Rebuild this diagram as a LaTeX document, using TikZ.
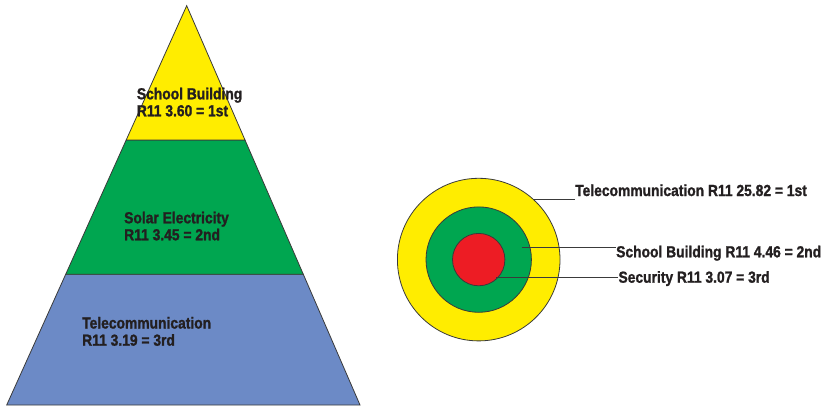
\documentclass[tikz,border=0pt]{standalone}
\usepackage{fontspec}
\newfontfamily\labfont{Liberation Sans Bold}[FakeStretch=0.865, FakeBold=1.3]
\definecolor{pyel}{HTML}{FFED00}
\definecolor{pgrn}{HTML}{00A650}
\definecolor{pblu}{HTML}{6C8AC6}
\definecolor{pred}{HTML}{ED1C24}
\definecolor{ptxt}{HTML}{231F20}
\definecolor{pline}{HTML}{3A3A3A}
\tikzset{
  lab/.style={anchor=base west, inner sep=0pt, text=ptxt, font=\fontsize{16}{18}\labfont},
  layer/.style={draw=pline, line width=0.8pt, line join=miter},
  ring/.style={circle, draw=pline, line width=0.8pt, inner sep=0pt, minimum size=#1},
  leader/.style={draw=pline, line width=0.9pt}
}
\begin{document}
\begin{tikzpicture}[x=1pt,y=-1pt]
\useasboundingbox (0,0) rectangle (826,406);
% pyramid
\path[layer, fill=pblu] (65.7,274.3) -- (303.3,274.3) -- (360,405) -- (6.7,405) -- cycle;
\path[layer, fill=pgrn] (126.2,140) -- (245,140) -- (303.3,274.3) -- (65.7,274.3) -- cycle;
\path[layer, fill=pyel] (186.7,5.7) -- (245,140) -- (126.2,140) -- cycle;
\node[lab] (sb1) at (136.7,99.3) {School Building};
\node[lab] (sb2) at (136.7,116.3) {R11 3.60 = 1st};
\node[lab] (se1) at (124,223.3) {Solar Electricity};
\node[lab] (se2) at (124,240.3) {R11 3.45 = 2nd};
\node[lab] (tc1) at (82,328.5) {Telecommunication};
\node[lab] (tc2) at (82,345.7) {R11 3.19 = 3rd};
% circles
\node[ring=162.6pt, fill=pyel] (outer) at (478.7,259.6) {};
\node[ring=105.4pt, fill=pgrn] (mid) at (478.7,259.6) {};
\node[ring=52.4pt, fill=pred] (inner) at (478.7,259.6) {};
\node[lab] (r1) at (575,196) {Telecommunication R11 25.82 = 1st};
\node[lab] (r2) at (616,257.3) {School Building R11 4.46 = 2nd};
\node[lab] (r3) at (618.3,282.7) {Security R11 3.07 = 3rd};
\coordinate (l1) at (533.3,199.3);
\coordinate (l2) at (521.7,247.3);
\coordinate (l3) at (496,277.3);
\draw[leader] (l1) -- (l1 -| r1.west);
\draw[leader] (l2) -- (l2 -| r2.west);
\draw[leader] (l3) -- (l3 -| r3.west);
\end{tikzpicture}
\end{document}
